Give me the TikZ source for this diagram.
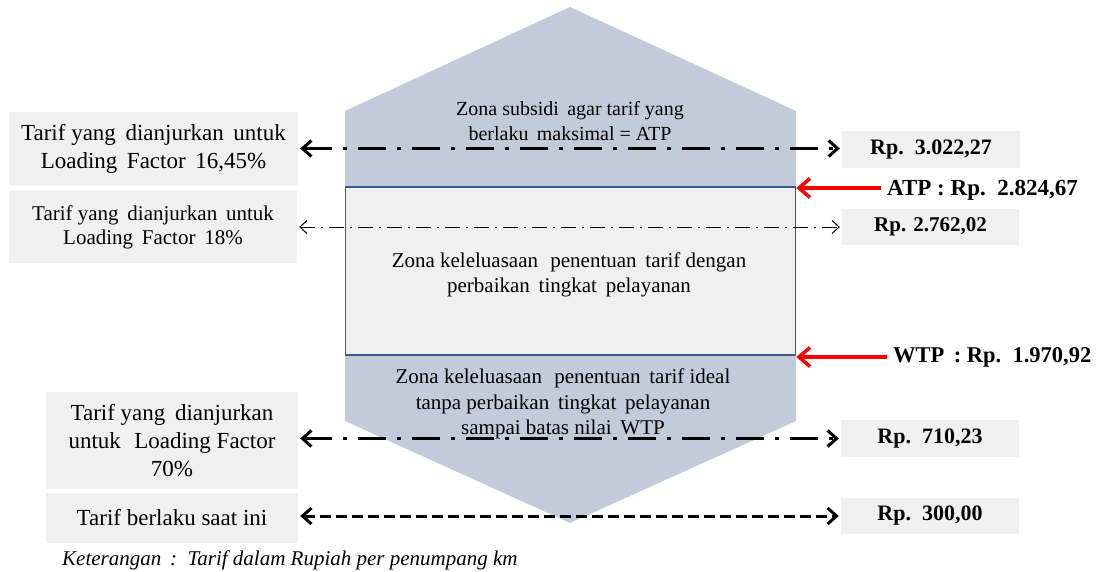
\documentclass[tikz,border=0pt]{standalone}
\usepackage{fontspec}
\setmainfont{Liberation Serif}
\usetikzlibrary{arrows.meta}
\definecolor{hexfill}{RGB}{194,203,218}
\definecolor{boxgray}{RGB}{240,240,240}
\definecolor{rectblue}{RGB}{58,90,150}
\tikzset{
  leftbox/.style={fill=boxgray, inner sep=0pt, align=center},
  rightbox/.style={fill=boxgray, inner sep=0pt, align=center, font=\bfseries\fontsize{22}{26}\selectfont},
  zonetext/.style={inner sep=0pt, align=center, font=\fontsize{20}{25.5}\selectfont},
  thickdd/.style={line width=3pt, dash pattern=on 28pt off 11pt on 4pt off 11pt,
    {Straight Barb[length=9pt,width=16pt]}-{Straight Barb[length=9pt,width=16pt]}, shorten <=2pt, shorten >=2pt},
  thindd/.style={line width=1pt, dash pattern=on 15pt off 6pt on 2pt off 6pt,
    {Straight Barb[length=7pt,width=13pt]}-{Straight Barb[length=7pt,width=13pt]}, shorten <=2pt, shorten >=2pt},
  thickdash/.style={line width=3pt, dash pattern=on 11pt off 5pt,
    {Straight Barb[length=9pt,width=16pt]}-{Straight Barb[length=9pt,width=16pt]}, shorten <=2pt, shorten >=2pt},
  redarrow/.style={draw=red, line width=3.5pt, -{Straight Barb[length=11pt,width=19pt]}, shorten <=6pt},
}
\begin{document}
\begin{tikzpicture}[x=1pt, y=-1pt]
\useasboundingbox (0,0) rectangle (1099,572);
% hexagon
\fill[hexfill] (570,7) -- (796,111) -- (796,421) -- (570,523) -- (345,421) -- (345,111) -- cycle;
% middle rectangle
\node[draw=rectblue, line width=1.5pt, fill=boxgray, minimum width=450pt, minimum height=168pt, inner sep=0pt] (mid) at (570.5,271) {};
% zone texts
\node[zonetext] (zsub) at (570,121) {Zona subsidi\, agar tarif yang\\berlaku\, maksimal = ATP};
\node[zonetext, font=\fontsize{21}{25.5}\selectfont] (zkel) at (569,275) {Zona keleluasaan\,\, penentuan\, tarif dengan\\perbaikan\, tingkat\, pelayanan};
\node[zonetext, font=\fontsize{21}{25.5}\selectfont] (zide) at (563,404) {Zona keleluasaan\,\, penentuan\, tarif ideal\\tanpa perbaikan\, tingkat\, pelayanan\\sampai batas nilai\, WTP};
% left boxes
\node[leftbox, minimum width=289pt, minimum height=73pt, font=\fontsize{23}{28}\selectfont] (b1) at (153.5,148.5) {Tarif yang\, dianjurkan\, untuk\\Loading\, Factor\, 16,45\%};
\node[leftbox, minimum width=288pt, minimum height=72pt, font=\fontsize{21}{24}\selectfont] (b2) at (153,227) {Tarif yang\, dianjurkan\, untuk\\Loading\, Factor\, 18\%};
\node[leftbox, minimum width=252pt, minimum height=97pt, font=\fontsize{23}{28}\selectfont] (b3) at (172,440.5) {Tarif yang\, dianjurkan\\untuk\,\, Loading Factor\\70\%};
\node[leftbox, minimum width=252pt, minimum height=50pt, font=\fontsize{23}{28}\selectfont] (b4) at (172,518) {Tarif berlaku saat ini};
% right boxes
\node[rightbox, minimum width=178pt, minimum height=37pt] (r1) at (931,149.5) {\raisebox{-3pt}{Rp.\, 3.022,27}};
\node[rightbox, minimum width=177pt, minimum height=36pt, font=\bfseries\fontsize{21}{24}\selectfont] (r2) at (930.5,227) {\raisebox{-2pt}{Rp. 2.762,02}};
\node[rightbox, minimum width=178pt, minimum height=37pt] (r3) at (930,438.5) {\raisebox{-3pt}{Rp.\, 710,23}};
\node[rightbox, minimum width=178pt, minimum height=36pt] (r4) at (930,516) {\raisebox{-3pt}{Rp.\, 300,00}};
% ATP / WTP labels
\node[inner sep=0pt, anchor=west, font=\bfseries\fontsize{23}{26}\selectfont] (atp) at (887,190) {ATP : Rp.\, 2.824,67};
\node[inner sep=0pt, anchor=west, font=\bfseries\fontsize{22.5}{26}\selectfont] (wtp) at (893,357) {WTP\, : Rp.\, 1.970,92};
% caption
\node[inner sep=0pt, anchor=west, font=\itshape\fontsize{21}{24}\selectfont] (cap) at (62,560) {Keterangan\, :\, Tarif dalam Rupiah per penumpang km};
% arrows
\draw[thickdd] (b1.east) -- (b1.east -| r1.west);
\draw[thindd] (b2.east) -- (b2.east -| r2.west);
\draw[thickdd] (b3.east |- r3.west) -- (r3.west);
\draw[thickdash] (b4.east |- r4.west) -- (r4.west);
\coordinate (atpstart) at ([yshift=2pt]atp.west);
\draw[redarrow] (atpstart) -- (atpstart -| mid.east);
\draw[redarrow] (wtp.west) -- (wtp.west -| mid.east);
\end{tikzpicture}
\end{document}
